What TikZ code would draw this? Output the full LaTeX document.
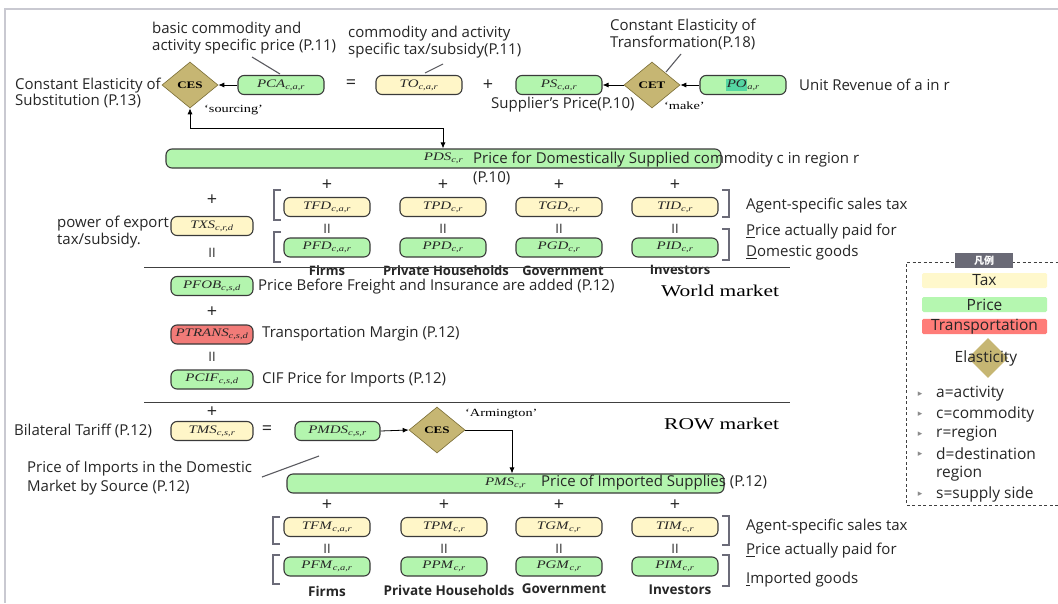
\documentclass[tikz,border=0pt]{standalone}
\usepackage{fontspec}
\usepackage{graphicx}
\setmainfont{Liberation Serif}
\newfontfamily\sff{Open Sans}
\newfontfamily\serifw{Liberation Serif}[FakeStretch=1.3]
\newfontfamily\symf{DejaVu Sans}
\newfontfamily\cjkf{Noto Sans CJK JP}
\usetikzlibrary{shapes.geometric,arrows.meta}

\definecolor{pgreen}{HTML}{B3F5AE}
\definecolor{tyellow}{HTML}{FFF6C8}
\definecolor{tred}{HTML}{F27B78}
\definecolor{olivefill}{HTML}{C6B673}
\definecolor{olivedraw}{HTML}{7A6D35}
\definecolor{boxdraw}{HTML}{3A3A3A}
\definecolor{brk}{HTML}{6B6B78}
\definecolor{framegray}{HTML}{C9C9D1}
\definecolor{lgtax}{HTML}{FFF8CC}
\definecolor{lgprice}{HTML}{B5F7B0}
\definecolor{lgtrans}{HTML}{FF7C78}
\definecolor{hdr}{HTML}{6A6A76}
\definecolor{poh}{HTML}{55D6A2}
\definecolor{leadc}{HTML}{5A5A60}
\definecolor{txtc}{HTML}{262626}

\newcommand{\vl}[2]{\textit{#1}\textsubscript{\textit{#2}}}

\tikzset{
  box/.style={rounded corners=6pt, draw=boxdraw, line width=1.1pt, minimum height=19pt,
    inner sep=0pt, font=\serifw\fontsize{11.5}{13}\selectfont, text=black!85},
  pbox/.style={box, fill=pgreen, minimum width=86pt},
  tbox/.style={box, fill=tyellow, minimum width=86pt},
  rbox/.style={box, fill=tred, minimum width=82pt},
  elas/.style={diamond, fill=olivefill, draw=olivedraw, line width=0.6pt, minimum width=56pt,
    minimum height=46pt, inner sep=0pt, font=\serifw\bfseries\fontsize{10}{12}\selectfont},
  txt/.style={font=\sff\fontsize{15}{17}\selectfont, text=txtc, inner sep=0pt, anchor=west, align=left},
  lbl/.style={font=\sff\bfseries\fontsize{13.5}{16}\selectfont, text=txtc, inner sep=0pt},
  qt/.style={font=\serifw\fontsize{11}{13}\selectfont, inner sep=0pt, anchor=west},
  mkt/.style={font=\serifw\fontsize{16.5}{19}\selectfont, inner sep=0pt, anchor=west},
  sym/.style={font=\sff\fontsize{18}{18}\selectfont, text=txtc, inner sep=0pt},
  eqv/.style={font=\sff\fontsize{13}{13}\selectfont, text=txtc, inner sep=0pt},
  arr/.style={-{Latex[length=6pt,width=5pt]}, line width=0.8pt, black},
  arrb/.style={{Latex[length=6pt,width=5pt]}-{Latex[length=6pt,width=5pt]}, line width=0.8pt, black},
  lead/.style={draw=leadc, line width=1.1pt},
  sep/.style={draw=black!75, line width=0.9pt},
  brack/.style={draw=brk, line width=2.6pt},
  lgbar/.style={minimum width=125pt, minimum height=15pt, inner sep=0pt, rounded corners=1.5pt,
    font=\sff\fontsize{15.5}{17}\selectfont, text=txtc},
  lgtxt/.style={font=\sff\fontsize{15.5}{17}\selectfont, text=txtc, inner sep=0pt, anchor=west},
  bul/.style={font=\symf\fontsize{9}{9}\selectfont, text=black!45, inner sep=0pt},
}

\begin{document}
\begin{tikzpicture}[x=1pt,y=-1pt]
\useasboundingbox (0,0) rectangle (1058,603);
\fill[white] (0,0) rectangle (1058,603);
\draw[framegray, line width=2pt] (5,603) -- (5,9) -- (1058,9);

% ---------- top row ----------
\node[elas] (ces1) at (190,85) {CES};
\node[pbox] (pca) at (281,85) {\vl{PCA}{c,a,r}};
\node[sym] (eq1) at (351,84) {=};
\node[tbox] (to) at (419,85) {\vl{TO}{c,a,r}};
\node[sym] (pl1) at (488,85) {+};
\node[pbox] (ps) at (559,85) {\vl{PS}{c,a,r}};
\node[elas] (cet) at (652,85) {CET};
\node[pbox] (po) at (743,85) {{\setlength\fboxsep{0.6pt}\colorbox{poh}{\rule[-3pt]{0pt}{11pt}\textit{PO}}}\textsubscript{\textit{a,r}}};
\draw[arr] (pca.west) -- (ces1.east);
\draw[arr] (po.west) -- (cet.east);
\draw[arr] (cet.west) -- (ps.east);

\node[txt, font=\sff\fontsize{15}{16}\selectfont] (a1) at (15,93) {Constant Elasticity of\\Substitution (P.13)};
\node[txt] (a2) at (152,38) {basic commodity and\\activity specific price (P.11)};
\node[txt] (a3) at (348,42) {commodity and activity\\specific tax/subsidy(P.11)};
\node[txt] (a4) at (610,34) {Constant Elasticity of\\Transformation(P.18)};
\node[txt] (a5) at (491,105) {Supplier’s Price(P.10)};
\node[txt] (a6) at (799,85) {Unit Revenue of a in r};
\node[qt] (q1) at (204,110) {‘sourcing’};
\node[qt] (q2) at (664,106) {‘make’};

\coordinate (l1a) at (252,57); \coordinate (l1b) at (280,74);
\coordinate (l2a) at (443,64); \coordinate (l2b) at (425,73);
\coordinate (l3a) at (681,54); \coordinate (l3b) at (666,72);
\draw[lead] (l1a) -- (l1b);
\draw[lead] (l2a) -- (l2b);
\draw[lead] (l3a) -- (l3b);

% ---------- PDS ----------
\node[pbox, minimum width=555pt] (pds) at (443.5,158.5) {\vl{PDS}{c,r}};
\coordinate (lc) at (443,128);
\draw[arrb] (ces1.south) |- (lc) -- (lc |- pds.north);
\node[txt, font=\sff\fontsize{15}{19}\selectfont] (a7) at (473,168) {Price for Domestically Supplied commodity c in region r\\(P.10)};

% ---------- domestic agents ----------
\foreach \x in {327,443,559,675} {
  \node[sym] at (\x,185) {+};
  \node[eqv] at (\x,229) {II};
}
\node[tbox] (tfd) at (327,207) {\vl{TFD}{c,a,r}};
\node[tbox] (tpd) at (443,207) {\vl{TPD}{c,r}};
\node[tbox] (tgd) at (559,207) {\vl{TGD}{c,r}};
\node[tbox] (tid) at (675,207) {\vl{TID}{c,r}};
\node[pbox] (pfd) at (327,247.5) {\vl{PFD}{c,a,r}};
\node[pbox] (ppd) at (443,247.5) {\vl{PPD}{c,r}};
\node[pbox] (pgd) at (559,247.5) {\vl{PGD}{c,r}};
\node[pbox] (pid) at (675,247.5) {\vl{PID}{c,r}};

\draw[brack] (281,190) -- (274,190) -- (274,220) -- (281,220);
\draw[brack] (281,232) -- (274,232) -- (274,262) -- (281,262);
\draw[brack] (722,190) -- (729,190) -- (729,217) -- (722,217);
\draw[brack] (722,229) -- (729,229) -- (729,260) -- (722,260);

\node[txt] (a8) at (746,206) {Agent-specific sales tax};
\node[txt] (a9) at (746,232) {\underline{P}rice actually paid for};
\node[txt] (a10) at (746,253) {\underline{D}omestic goods};

\node[sym] at (212,200) {+};
\node[tbox, minimum width=82pt] (txs) at (212,226) {\vl{TXS}{c,r,d}};
\node[eqv] at (212,253) {II};
\node[txt] (a11) at (57,232) {power of export\\tax/subsidy.};

\node[lbl, font=\sff\bfseries\fontsize{13}{14}\selectfont] (f1) at (327,271) {Firms};
\node[lbl, font=\sff\bfseries\fontsize{13}{14}\selectfont] (f2) at (446,271) {Private Households};
\node[lbl, font=\sff\bfseries\fontsize{13}{14}\selectfont] (f3) at (563,270.5) {Government};
\node[lbl, font=\sff\bfseries\fontsize{13}{14}\selectfont] (f4) at (680,270) {Investors};
\draw[sep] (144,267) -- (790,267);

% ---------- world market ----------
\node[pbox, minimum width=82pt] (pfob) at (212,286) {\vl{PFOB}{c,s,d}};
\node[sym] at (212,312) {+};
\node[rbox] (ptrans) at (212,334.5) {\vl{PTRANS}{c,s,d}};
\node[eqv] at (212,357) {II};
\node[pbox, minimum width=82pt] (pcif) at (212,379.5) {\vl{PCIF}{c,s,d}};
\node[txt] (a12) at (258,287) {Price Before Freight and Insurance are added (P.12)};
\node[txt] (a13) at (262,334) {Transportation Margin (P.12)};
\node[txt] (a14) at (262,380) {CIF Price for Imports (P.12)};
\node[mkt] (m1) at (661,291) {World market};
\draw[sep] (144,402) -- (790,402);

% ---------- ROW market ----------
\node[sym] at (212,412) {+};
\node[tbox, minimum width=82pt] (tms) at (212,431) {\vl{TMS}{c,s,r}};
\node[sym] (eq2) at (267,430) {=};
\node[pbox, minimum width=85pt] (pmds) at (337.5,431) {\vl{PMDS}{c,s,r}};
\node[elas] (ces2) at (437,430) {CES};
\node[qt] (q3) at (465,414) {‘Armington’};
\node[mkt] (m2) at (664,424) {ROW market};
\draw[arr] (pmds.east) -- (ces2.west);
\node[pbox, minimum width=437pt] (pms) at (505.5,483.5) {\vl{PMS}{c,r}};
\coordinate (ar) at (512,430);
\draw[arr] (ces2.east) -- (ar) -- (ar |- pms.north);
\node[txt] (a15) at (541,483) {Price of Imported Supplies (P.12)};
\node[txt] (a16) at (14,431) {Bilateral Tariff (P.12)};
\node[txt, font=\sff\fontsize{15}{19}\selectfont] (a17) at (27,478) {Price of Imports in the Domestic\\Market by Source (P.12)};
\coordinate (l4a) at (319,456); \coordinate (l4b) at (262,477);
\draw[lead] (l4a) -- (l4b);

% ---------- imported agents ----------
\foreach \x in {327,444,559,675} {
  \node[sym] at (\x,505) {+};
  \node[eqv] at (\x,549) {II};
}
\node[tbox] (tfm) at (327,527) {\vl{TFM}{c,a,r}};
\node[tbox] (tpm) at (444,527) {\vl{TPM}{c,r}};
\node[tbox] (tgm) at (559,527) {\vl{TGM}{c,r}};
\node[tbox] (tim) at (675,527) {\vl{TIM}{c,r}};
\node[pbox] (pfm) at (327,566.5) {\vl{PFM}{c,a,r}};
\node[pbox] (ppm) at (444,566.5) {\vl{PPM}{c,r}};
\node[pbox] (pgm) at (559,566.5) {\vl{PGM}{c,r}};
\node[pbox] (pim) at (675,566.5) {\vl{PIM}{c,r}};

\draw[brack] (280,517) -- (273,517) -- (273,544) -- (280,544);
\draw[brack] (280,555) -- (273,555) -- (273,584) -- (280,584);
\draw[brack] (722,516) -- (729,516) -- (729,545) -- (722,545);
\draw[brack] (722,555) -- (729,555) -- (729,586) -- (722,586);

\node[txt] (a18) at (746,527) {Agent-specific sales tax};
\node[txt] (a19) at (746,551) {\underline{P}rice actually paid for};
\node[txt] (a20) at (746,580) {\underline{I}mported goods};

\node[lbl] (g1) at (327,591) {Firms};
\node[lbl] (g2) at (449,590) {Private Households};
\node[lbl] (g3) at (564,589) {Government};
\node[lbl] (g4) at (680,590) {Investors};

% ---------- legend ----------
\draw[dashed, dash pattern=on 3pt off 2.5pt, draw=black!75, line width=0.8pt]
  (1058,505) -- (906,505) -- (906,262) -- (1058,262);
\node[fill=hdr, minimum width=58pt, minimum height=15pt, inner sep=0pt, text=white,
  font=\cjkf\bfseries\fontsize{10}{12}\selectfont] (hd) at (984,260.5) {凡例};
\node[lgbar, fill=lgtax] (lt) at (984.5,280.5) {Tax};
\node[lgbar, fill=lgprice] (lp) at (984.5,304.5) {Price};
\node[lgbar, fill=lgtrans] (lr) at (984.5,326.5) {Transportation};
\node[diamond, fill=olivefill, minimum width=40pt, minimum height=40pt, inner sep=0pt] (ld) at (988,358) {};
\node[font=\sff\fontsize{15.5}{17}\selectfont, text=txtc, inner sep=0pt] (le) at (986,358) {Elasticity};
\foreach \y/\t in {394/a=activity,414/c=commodity,434/r=region,454/d=destination,494/s=supply side} {
  \node[bul] at (920,\y) {▸};
  \node[lgtxt] at (936,\y) {\t};
}
\node[lgtxt] (lreg) at (936,474) {region};
\end{tikzpicture}
\end{document}
